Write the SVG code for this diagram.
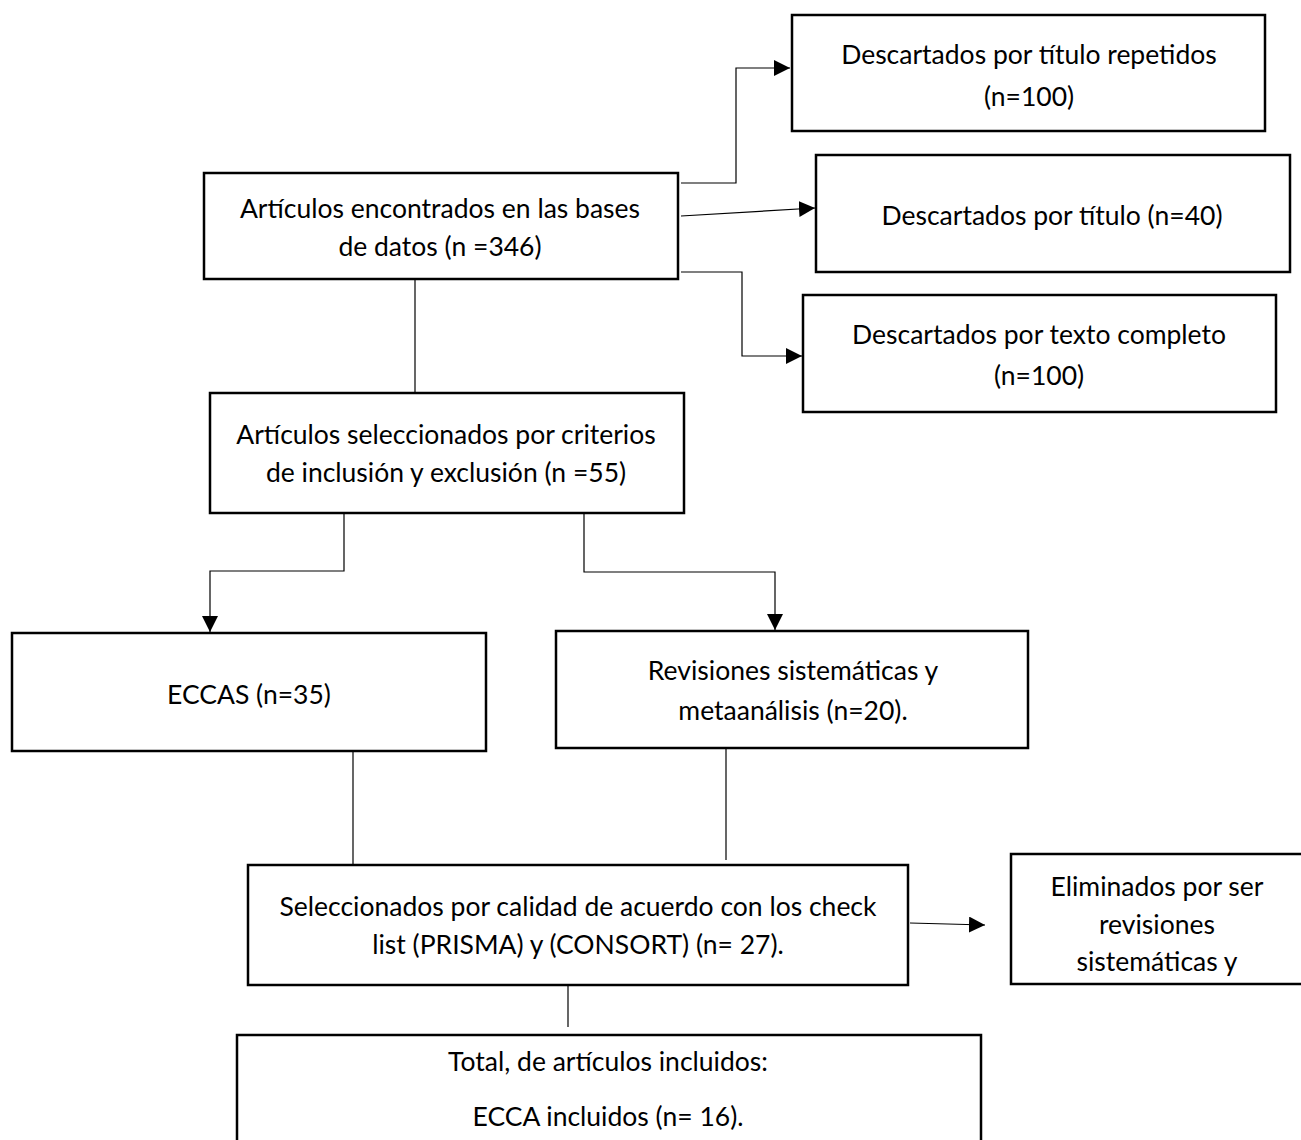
<svg xmlns="http://www.w3.org/2000/svg" width="1301" height="1140" viewBox="0 0 1301 1140">
<style>
.box{fill:#fff;stroke:#000;stroke-width:2.5}
.t{font-family:Lato,"Open Sans","Liberation Sans",sans-serif;font-size:26.5px;fill:#000;text-anchor:middle}
.c{fill:none;stroke:#000;stroke-width:1.2}
</style>
<defs>
<marker id="ah" viewBox="0 0 10 10" refX="10" refY="5" markerWidth="16" markerHeight="16" markerUnits="userSpaceOnUse" orient="auto">
<path d="M0,0 L10,5 L0,10 Z" fill="#000"/>
</marker>
</defs>
<rect width="1301" height="1140" fill="#fff"/>
<g id="connectors">
<path class="c" d="M681,183 H736 V68 H790" marker-end="url(#ah)"/>
<path class="c" d="M681,216 L815,208" marker-end="url(#ah)"/>
<path class="c" d="M681,272 H742 V356 H802" marker-end="url(#ah)"/>
<path class="c" d="M415,280 V393"/>
<path class="c" d="M344,514 V571 H210 V632" marker-end="url(#ah)"/>
<path class="c" d="M584,514 V572 H775 V630" marker-end="url(#ah)"/>
<path class="c" d="M353,752 V865"/>
<path class="c" d="M726,749 V860"/>
<path class="c" d="M910,923 L985,925" marker-end="url(#ah)"/>
<path class="c" d="M568,986 V1027"/>
</g>
<g id="n1"><rect class="box" x="792" y="15" width="473" height="116"/>
<text class="t" x="1029" y="64">Descartados por título repetidos</text>
<text class="t" x="1029" y="106">(n=100)</text></g>
<g id="n2"><rect class="box" x="816" y="155" width="474" height="117"/>
<text class="t" x="1052" y="225">Descartados por título (n=40)</text></g>
<g id="n3"><rect class="box" x="803" y="295" width="473" height="117"/>
<text class="t" x="1039" y="344">Descartados por texto completo</text>
<text class="t" x="1039" y="385">(n=100)</text></g>
<g id="nA"><rect class="box" x="204" y="173" width="474" height="106"/>
<text class="t" x="440" y="218">Artículos encontrados en las bases</text>
<text class="t" x="440" y="256">de datos (n =346)</text></g>
<g id="nB"><rect class="box" x="210" y="393" width="474" height="120"/>
<text class="t" x="446" y="444">Artículos seleccionados por criterios</text>
<text class="t" x="446" y="482">de inclusión y exclusión (n =55)</text></g>
<g id="nE"><rect class="box" x="12" y="633" width="474" height="118"/>
<text class="t" x="249" y="704">ECCAS (n=35)</text></g>
<g id="nR"><rect class="box" x="556" y="631" width="472" height="117"/>
<text class="t" x="793" y="680">Revisiones sistemáticas y</text>
<text class="t" x="793" y="720">metaanálisis (n=20).</text></g>
<g id="nS"><rect class="box" x="248" y="865" width="660" height="120"/>
<text class="t" x="578" y="916">Seleccionados por calidad de acuerdo con los check</text>
<text class="t" x="578" y="954">list (PRISMA) y (CONSORT) (n= 27).</text></g>
<g id="nEl"><rect class="box" x="1011" y="854" width="300" height="130"/>
<text class="t" x="1157" y="896">Eliminados por ser</text>
<text class="t" x="1157" y="934">revisiones</text>
<text class="t" x="1157" y="971">sistemáticas y</text></g>
<g id="nT"><rect class="box" x="237" y="1035" width="744" height="120"/>
<text class="t" x="608" y="1071">Total, de artículos incluidos:</text>
<text class="t" x="608" y="1126">ECCA incluidos (n= 16).</text></g>
</svg>
